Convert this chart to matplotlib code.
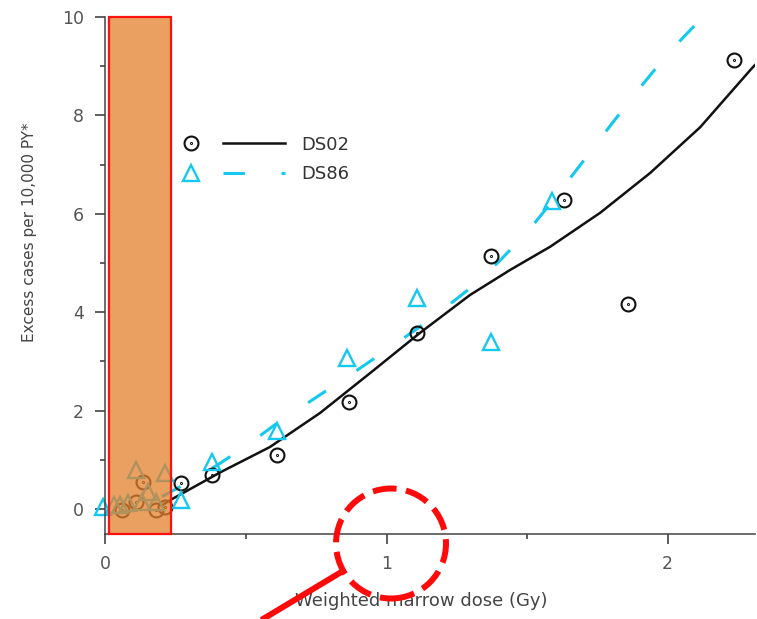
import matplotlib.pyplot as plt
from matplotlib.path import Path
from matplotlib.patches import Ellipse
from matplotlib.lines import Line2D
from matplotlib.legend_handler import HandlerTuple

W, H = 757, 619

# observed excess cases (DS02 dosimetry)
ds02_dose = [0.06, 0.11, 0.135, 0.18, 0.21, 0.27, 0.38, 0.61, 0.865, 1.11, 1.37, 1.63, 1.86, 2.235]
ds02_excess = [-0.02, 0.14, 0.55, -0.02, 0.04, 0.53, 0.69, 1.10, 2.17, 3.58, 5.14, 6.28, 4.17, 9.13]

# observed excess cases (DS86 dosimetry)
ds86_dose = [-0.01, 0.03, 0.05, 0.08, 0.11, 0.13, 0.15, 0.18, 0.21, 0.27, 0.38, 0.61, 0.86, 1.11, 1.37, 1.59]
ds86_excess = [0.05, 0.08, 0.08, 0.12, 0.79, 0.14, 0.35, 0.14, 0.73, 0.18, 0.95, 1.58, 3.07, 4.29, 3.40, 6.26]

# fitted curves
fit02_dose = [0.20, 0.23, 0.41, 0.585, 0.763, 0.941, 1.119, 1.297, 1.44, 1.582, 1.76, 1.938, 2.116, 2.294, 2.31]
fit02_excess = [0.07, 0.18, 0.75, 1.26, 1.95, 2.76, 3.58, 4.35, 4.86, 5.33, 6.02, 6.83, 7.76, 8.92, 9.02]
fit86_dose = [0.20, 0.31, 0.40, 0.50, 0.60, 0.70, 0.80, 0.90, 1.00, 1.10, 1.20, 1.30, 1.40,
              1.50, 1.60, 1.70, 1.80, 1.90, 2.00, 2.10, 2.16]
fit86_excess = [0.25, 0.59, 0.90, 1.28, 1.70, 2.08, 2.46, 2.84, 3.23, 3.63, 4.05, 4.50, 5.03,
                5.62, 6.33, 7.07, 7.82, 8.55, 9.25, 9.85, 10.15]

# highlighted low-dose band (Gy)
band_lo, band_hi = 0.0125, 0.233

black = '#111111'
cyan = '#14c8f0'

plt.rcParams['font.family'] = 'DejaVu Sans'

fig = plt.figure(figsize=(W / 100, H / 100), dpi=100)
ax = fig.add_axes([105.5 / W, 1 - 533.6 / H, (755 - 105.5) / W, (533.6 - 17) / H])

# circle with a centre dot
circ_dot = Path.make_compound_path(Path.unit_circle(), Path.circle((0, 0), 0.07))

ax.plot(fit02_dose, fit02_excess, color=black, lw=1.8, zorder=2)
ax.plot(fit86_dose, fit86_excess, color=cyan, lw=2.2, dashes=(7, 12), zorder=2)
ax.plot(ds02_dose, ds02_excess, ls='none', marker=circ_dot, ms=10, mfc='none',
        mec=black, mew=1.5, clip_on=False, zorder=2)
ax.plot(ds86_dose, ds86_excess, ls='none', marker='^', ms=12, mfc='none',
        mec=cyan, mew=1.7, clip_on=False, zorder=2)

ax.axvspan(band_lo, band_hi, facecolor=(0.894, 0.502, 0.169, 0.75),
           edgecolor='#ff1010', lw=1.6, zorder=3, clip_on=False)

ax.set_xlim(0, 2.311)
ax.set_ylim(-0.5, 10)
ax.set_xticks([0, 1, 2])
ax.set_xticks([0.5, 1.5], minor=True)
ax.set_yticks(range(0, 11, 2))
ax.set_yticks(range(1, 10, 2), minor=True)
ax.tick_params(which='major', length=7, width=1.1, color='#333333',
               labelsize=12.5, labelcolor='#555555', pad=8.5)
ax.tick_params(which='minor', length=3.6, width=1.1, color='#333333')
for s in ['top', 'right']:
    ax.spines[s].set_visible(False)
for s in ['left', 'bottom']:
    ax.spines[s].set_color('#444444')
    ax.spines[s].set_linewidth(1.1)

ax.set_ylabel('Excess cases per 10,000 PY*', fontsize=11, color='#444444')
ax.yaxis.set_label_coords((37 - 105.5) / 649.5, (533.6 - 232) / 516.6)
ax.set_xlabel('Weighted marrow dose (Gy)', fontsize=13, color='#444444')
ax.xaxis.set_label_coords((421 - 105.5) / 649.5, (533.6 - 592) / 516.6)

h02 = (Line2D([], [], ls='none', marker=circ_dot, ms=10, mfc='none', mec=black, mew=1.5),
       Line2D([], [], color=black, lw=1.8))
h86 = (Line2D([], [], ls='none', marker='^', ms=12, mfc='none', mec=cyan, mew=1.7),
       Line2D([], [], color=cyan, lw=2.2, dashes=(7, 12)))
ax.legend([h02, h86], ['DS02', 'DS86'],
          handler_map={tuple: HandlerTuple(ndivide=None, pad=0.11)},
          handlelength=6.9, handletextpad=0.9, labelspacing=0.66, frameon=False,
          fontsize=13, labelcolor='#333333', loc='upper left',
          bbox_to_anchor=(160 / W, 1 - 135.5 / H), bbox_transform=fig.transFigure,
          borderpad=0, borderaxespad=0)

# red call-out: dashed circle around the "1" tick and a pointer line
fig.add_artist(Ellipse((391 / W, 1 - 543.5 / H), 110 / W, 110 / H, transform=fig.transFigure,
                       fill=False, ec='#ff0a0a', lw=4.3, linestyle=(0, (4, 1.6)), zorder=5))
fig.add_artist(Line2D([258 / W, 343 / W], [1 - 622 / H, 1 - 571 / H], transform=fig.transFigure,
                      color='#ff0a0a', lw=4.3, solid_capstyle='butt', zorder=5))

fig.savefig('out.png', dpi=100)
